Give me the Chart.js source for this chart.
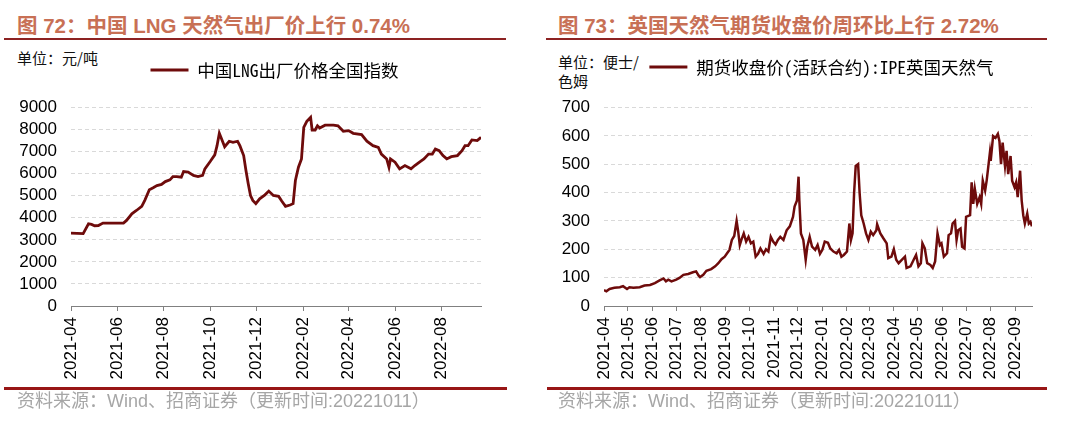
<!DOCTYPE html>
<html>
<head>
<meta charset="utf-8">
<script src="https://cdn.jsdelivr.net/npm/chart.js@4.4.0/dist/chart.umd.min.js"></script>
<style>
  body { margin: 0; width: 1080px; height: 422px; background: #fff; position: relative; overflow: hidden;
         font-family: 'Liberation Sans', 'Noto Sans CJK SC', sans-serif; }
  .title { position: absolute; top: 14px; font-size: 20.5px; font-weight: bold; line-height: 24px; color: #c87055; white-space: nowrap; }
  .rule { position: absolute; top: 38px; height: 2px; background: #8c2222; }
  .unit { position: absolute; font-family: 'Noto Sans CJK SC'; font-size: 15px; line-height: 19px; color: #111; white-space: nowrap; }
  .box { position: absolute; top: 45px; width: 540px; height: 345px; }
  .frule { position: absolute; top: 387px; height: 3px; background: #981616; }
  .src { position: absolute; top: 391px; font-size: 18px; line-height: 20px; color: #a6a6a6; white-space: nowrap; }
</style>
</head>
<body>
<div class="title" style="left:17px">图 72：中国 LNG 天然气出厂价上行 0.74%</div>
<div class="rule" style="left:4px;width:502px"></div>
<div class="unit" style="left:17px;top:48px">单位：元/吨</div>
<div class="box" style="left:0"><canvas id="lng"></canvas></div>
<div class="frule" style="left:4px;width:503px"></div>
<div class="src" style="left:17px">资料来源：Wind、招商证券（更新时间:20221011）</div>

<div class="title" style="left:558px">图 73：英国天然气期货收盘价周环比上行 2.72%</div>
<div class="rule" style="left:546px;width:501px"></div>
<div class="unit" style="left:558px;top:52px">单位：便士/<br>色姆</div>
<div class="box" style="left:540px"><canvas id="uk"></canvas></div>
<div class="frule" style="left:547px;width:500px"></div>
<div class="src" style="left:558px">资料来源：Wind、招商证券（更新时间:20221011）</div>

<script>
// x values are days since 2021-04-01
const START = Date.UTC(2021, 3, 1);
const END_DAY = 539;

// 中国LNG出厂价格全国指数 (元/吨)
const lngDays = [
  0, 16, 23, 27, 31, 36, 42, 55, 69, 73,
  80, 86, 93, 97, 103, 108, 113, 119, 124, 130,
  134, 139, 145, 148, 154, 161, 167, 173, 176, 183,
  189, 192, 195, 198, 202, 208, 213, 219, 222, 227,
  230, 233, 236, 239, 243, 248, 255, 260, 266, 273,
  277, 282, 288, 292, 295, 299, 303, 306, 310, 315,
  317, 321, 324, 327, 334, 345, 351, 358, 365, 371,
  382, 389, 397, 404, 408, 415, 418, 420, 426, 432,
  439, 447, 452, 459, 464, 470, 475, 479, 484, 489,
  494, 500, 508, 514, 518, 522, 527, 534, 539
];
const lngPrice = [
  3300, 3280, 3730, 3700, 3640, 3650, 3760, 3760, 3760, 3880,
  4180, 4330, 4520, 4790, 5270, 5360, 5460, 5510, 5640, 5720,
  5870, 5870, 5840, 6100, 6070, 5920, 5870, 5920, 6220, 6550,
  6850, 7270, 7830, 7570, 7220, 7470, 7420, 7470, 7270, 6820,
  6140, 5540, 5010, 4790, 4640, 4860, 5040, 5210, 5010, 4970,
  4760, 4520, 4580, 4640, 5690, 6290, 6670, 8100, 8370, 8550,
  7980, 7980, 8170, 8070, 8200, 8200, 8170, 7920, 7950, 7830,
  7770, 7470, 7270, 7190, 6890, 6670, 6290, 6670, 6520, 6220,
  6370, 6220, 6370, 6550, 6670, 6890, 6890, 7120, 7040, 6820,
  6670, 6770, 6820, 7040, 7270, 7270, 7530, 7500, 7650
];
const lngTicks = ['2021-04', '2021-06', '2021-08', '2021-10', '2021-12',
                  '2022-02', '2022-04', '2022-06', '2022-08'];
const lngYTicks = [0, 1000, 2000, 3000, 4000, 5000, 6000, 7000, 8000, 9000];

// 期货收盘价(活跃合约):IPE英国天然气 (便士/色姆)
const ukDays = [
  0, 3, 7, 13, 20, 24, 29, 32, 37, 45,
  51, 58, 64, 70, 75, 78, 81, 85, 91, 95,
  100, 106, 112, 116, 119, 121, 125, 129, 135, 140,
  144, 148, 152, 155, 158, 161, 164, 167, 169, 171,
  173, 176, 179, 182, 185, 188, 191, 194, 197, 201,
  204, 207, 210, 213, 216, 219, 222, 226, 230, 234,
  238, 240, 243, 245, 246, 248, 251, 254, 256, 259,
  262, 266, 269, 272, 275, 278, 282, 285, 289, 293,
  296, 299, 302, 306, 309, 311, 313, 315, 317, 320,
  322, 324, 327, 330, 333, 336, 339, 343, 344, 348,
  352, 356, 358, 362, 365, 368, 371, 375, 379, 381,
  386, 390, 393, 396, 399, 401, 404, 407, 411, 414,
  417, 420, 423, 425, 428, 432, 434, 437, 439, 442,
  444, 446, 449, 451, 454, 456, 461, 463, 465, 467,
  470, 473, 475, 477, 480, 482, 486, 487, 490, 493,
  496, 498, 500, 502, 505, 507, 509, 512, 514, 517,
  519, 521, 524, 526, 528, 530, 533, 535, 537, 539
];
const ukPrice = [
  56, 52, 60, 64, 66, 70, 60, 66, 64, 66,
  72, 74, 81, 90, 97, 87, 93, 87, 93, 99,
  110, 113, 119, 122, 108, 102, 110, 124, 130, 140,
  151, 165, 174, 186, 198, 233, 247, 300, 262, 215,
  233, 256, 227, 244, 221, 227, 174, 184, 203, 184,
  200, 192, 244, 227, 217, 233, 244, 233, 267, 281,
  314, 351, 372, 456, 372, 256, 233, 163, 209, 244,
  209, 198, 215, 184, 198, 227, 223, 203, 192, 186,
  198, 174, 180, 192, 291, 233, 256, 401, 494, 500,
  395, 320, 291, 256, 233, 262, 250, 267, 288, 256,
  238, 221, 169, 174, 200, 163, 151, 163, 174, 134,
  140, 163, 180, 140, 151, 221, 203, 151, 145, 134,
  157, 256, 215, 221, 174, 186, 250, 256, 291, 300,
  233, 267, 273, 209, 203, 314, 320, 436, 360, 413,
  360, 384, 360, 442, 407, 444, 541, 512, 599, 593,
  607, 581, 500, 576, 494, 547, 465, 529, 442, 419,
  436, 384, 477, 372, 320, 291, 326, 291, 297, 281
];
const ukTicks = ['2021-04', '2021-05', '2021-06', '2021-07', '2021-08', '2021-09',
                 '2021-10', '2021-11', '2021-12', '2022-01', '2022-02', '2022-03',
                 '2022-04', '2022-05', '2022-06', '2022-07', '2022-08', '2022-09'];
const ukYTicks = [0, 100, 200, 300, 400, 500, 600, 700];

const LINE_COLOR = '#6e0b0b';
const tickFont = { family: "'Liberation Sans', Arial, sans-serif", size: 17 };
const LEGEND_SIZE = 17.5;

function dayOf(ym) {
  const [y, m] = ym.split('-').map(Number);
  return Math.round((Date.UTC(y, m - 1, 1) - START) / 86400000);
}

// move the legend row so its centre sits where the original has it
function placeLegend(cx, cy) {
  return {
    id: 'placeLegend',
    afterLayout(chart) {
      const lg = chart.legend;
      const dx = cx - (lg.left + lg.right) / 2;
      const dy = (cy - 10 - LEGEND_SIZE / 2) - lg.top;
      lg.left += dx; lg.right += dx;
      lg.top += dy; lg.bottom += dy;
    }
  };
}

function lineChart(id, label, days, values, tickLabels, yTicks, o) {
  const tickDays = tickLabels.map(dayOf);
  return new Chart(document.getElementById(id), {
    type: 'line',
    data: {
      datasets: [{
        label: label,
        data: days.map((d, i) => ({ x: d, y: values[i] })),
        borderColor: LINE_COLOR,
        backgroundColor: LINE_COLOR,
        borderWidth: o.lineWidth,
        pointRadius: 0,
        tension: 0
      }]
    },
    options: {
      responsive: true,
      maintainAspectRatio: false,
      animation: false,
      layout: { padding: { top: 25, right: o.padRight, bottom: 0, left: 0 } },
      plugins: {
        tooltip: { enabled: false },
        legend: {
          labels: {
            font: { family: "'Noto Sans Mono CJK SC', 'Noto Sans CJK SC'", size: LEGEND_SIZE },
            color: '#000',
            boxWidth: 38,
            boxHeight: 3,
            padding: 10,
            generateLabels: ch => Chart.defaults.plugins.legend.labels.generateLabels(ch)
              .map(l => Object.assign(l, { lineWidth: 0 }))
          }
        }
      },
      scales: {
        x: {
          type: 'linear',
          min: 0,
          max: END_DAY,
          afterBuildTicks: s => { s.ticks = tickDays.map(v => ({ value: v })); },
          afterFit: s => { s.height = 84; },
          ticks: {
            autoSkip: false,
            minRotation: 90,
            maxRotation: 90,
            padding: 6,
            color: '#000',
            font: tickFont,
            callback: (v, i) => tickLabels[i]
          },
          grid: { drawOnChartArea: false, drawTicks: true, tickLength: 5, color: '#808080' },
          border: { display: true, color: '#808080', width: 1 }
        },
        y: {
          min: 0,
          max: o.yMax,
          afterBuildTicks: s => { s.ticks = yTicks.map(v => ({ value: v })); },
          afterFit: s => { s.width = o.left; },
          ticks: {
            autoSkip: false,
            padding: 14,
            color: '#000',
            font: tickFont,
            callback: v => String(v)
          },
          grid: { color: '#d9d9d9', drawTicks: false },
          border: { display: false, dash: [4, 3] }
        }
      }
    },
    plugins: [placeLegend(o.legendX, o.legendY)]
  });
}

lineChart('lng', '中国LNG出厂价格全国指数', lngDays, lngPrice, lngTicks, lngYTicks,
  { lineWidth: 2.8, padRight: 59, left: 71, yMax: 9000, legendX: 274.5, legendY: 25 });

lineChart('uk', '期货收盘价(活跃合约):IPE英国天然气', ukDays, ukPrice, ukTicks, ukYTicks,
  { lineWidth: 2.5, padRight: 48, left: 64, yMax: 700, legendX: 281.5, legendY: 22 });
</script>
</body>
</html>
